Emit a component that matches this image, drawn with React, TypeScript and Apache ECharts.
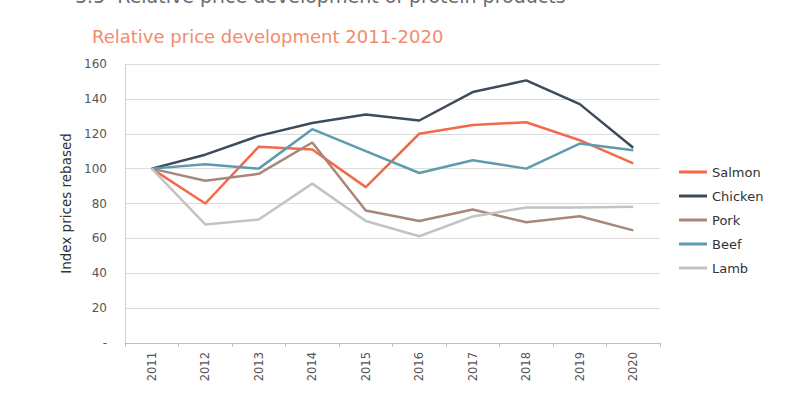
import React, { useEffect, useRef } from "react";
import * as echarts from "echarts";

const years = ["2011", "2012", "2013", "2014", "2015", "2016", "2017", "2018", "2019", "2020"];
const salmon = [100, 80, 112.6, 111, 89.4, 120, 125, 126.6, 116.3, 103];
const chicken = [100, 108, 118.8, 126.2, 131, 127.6, 143.9, 150.6, 137, 112];
const pork = [100, 93, 97, 115, 76, 70, 76.6, 69.2, 72.7, 64.6];
const beef = [100, 102.5, 100, 122.6, 110, 97.5, 104.8, 100, 114.4, 110.5];
const lamb = [100, 68, 70.8, 91.4, 70, 61.2, 72.6, 77.7, 77.7, 78.1];

const seriesDefs = [
  { name: "Salmon", data: salmon, color: "#F4694A" },
  { name: "Chicken", data: chicken, color: "#3E4B58" },
  { name: "Pork", data: pork, color: "#A8877B" },
  { name: "Beef", data: beef, color: "#5E9CAD" },
  { name: "Lamb", data: lamb, color: "#C3C3C3" },
];

const FONT = "'DejaVu Sans', 'Noto Sans', sans-serif";

export default function App() {
  const ref = useRef<HTMLDivElement>(null);
  useEffect(() => {
    document.body.style.margin = "0";
    if (!ref.current) return;
    const chart = echarts.init(ref.current, null, { renderer: "svg" });
    chart.setOption({
      animation: false,
      backgroundColor: "#ffffff",
      textStyle: { fontFamily: FONT },
      graphic: [
        {
          type: "text",
          left: 75,
          top: -14,
          style: {
            text: "3.5  Relative price development of protein products",
            font: `19px ${FONT}`,
            fill: "#6b6b6b",
          },
        },
        {
          type: "text",
          left: 92,
          top: 27,
          style: {
            text: "Relative price development 2011-2020",
            font: `18px ${FONT}`,
            fill: "#F58A6C",
          },
        },
      ],
      grid: { left: 125, right: 136, top: 64, bottom: 54 },
      legend: {
        orient: "vertical",
        left: 674,
        top: 159,
        icon: "rect",
        itemWidth: 28,
        itemHeight: 3,
        itemGap: 8,
        textStyle: { fontFamily: FONT, fontSize: 13, color: "#333", lineHeight: 16 },
        data: seriesDefs.map((s) => s.name),
      },
      xAxis: {
        type: "category",
        data: years,
        boundaryGap: true,
        axisLine: { show: true, lineStyle: { color: "#BFBFBF", width: 1 } },
        axisTick: { show: true, alignWithLabel: false, length: 4, lineStyle: { color: "#BFBFBF" } },
        axisLabel: { rotate: 90, margin: 9, fontSize: 11.5, color: "#555", fontFamily: FONT },
        splitLine: { show: false },
      },
      yAxis: {
        type: "value",
        min: 0,
        max: 160,
        interval: 20,
        name: "Index prices rebased",
        nameLocation: "middle",
        nameGap: 42,
        nameTextStyle: { fontSize: 13.5, color: "#333", fontFamily: FONT },
        axisLine: { show: true, lineStyle: { color: "#D0D0D0", width: 1 } },
        axisTick: { show: false },
        axisLabel: {
          margin: 18,
          fontSize: 12,
          color: "#555",
          fontFamily: FONT,
          formatter: (v: number) => (v === 0 ? "-" : String(v)),
        },
        splitLine: { show: true, lineStyle: { color: "#DCDCDC", width: 1 } },
      },
      series: seriesDefs.map((s) => ({
        name: s.name,
        type: "line",
        data: s.data,
        symbol: "none",
        showSymbol: false,
        color: s.color,
        lineStyle: { color: s.color, width: 2.5 },
        itemStyle: { color: s.color },
      })),
    });
    return () => chart.dispose();
  }, []);
  return <div ref={ref} style={{ width: 796, height: 397 }} />;
}
